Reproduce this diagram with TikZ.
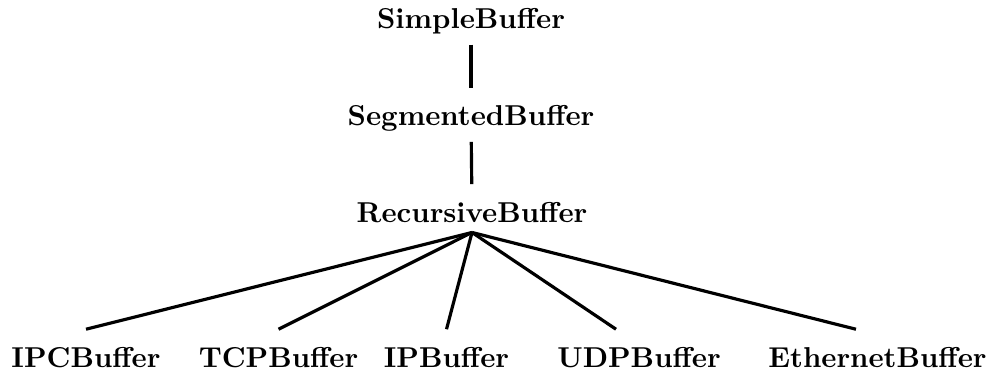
\documentclass[tikz,border=0pt]{standalone}
\usepackage{tikz}
\usetikzlibrary{positioning}
\tikzset{cls/.style={font=\bfseries,anchor=base,text height=9.6pt}}
\tikzset{link/.style={black,line width=1.1pt}}
\begin{document}
\begin{tikzpicture}[x=0.01222cm,y=-0.01222cm]
  \useasboundingbox (0,0) rectangle (993,371);
  % Classes
  \node[cls] (simple) at (471,29) {SimpleBuffer};
  \node[cls] (segmented) at (471,126) {SegmentedBuffer};
  \node[cls] (recursive) at (472,222) {RecursiveBuffer};
  \node[cls] (ipc) at (86,367) {IPCBuffer};
  \node[cls] (tcp) at (278.5,367) {TCPBuffer};
  \node[cls] (ip) at (446.5,367) {IPBuffer};
  \node[cls] (udp) at (639,367) {UDPBuffer};
  \node[cls] (eth) at (877.5,367) {EthernetBuffer};

  % Links
  \draw[link] (simple) -- (segmented);
  \draw[link] (segmented) -- (recursive);
  \draw[link] (recursive.south) -- (ipc.north);
  \draw[link] (recursive.south) -- (tcp.north);
  \draw[link] (recursive.south) -- (ip.north);
  \draw[link] (recursive.south) -- ([xshift=-8pt]udp.north);
  \draw[link] (recursive.south) -- ([xshift=-7.5pt]eth.north);
\end{tikzpicture}
\end{document}
